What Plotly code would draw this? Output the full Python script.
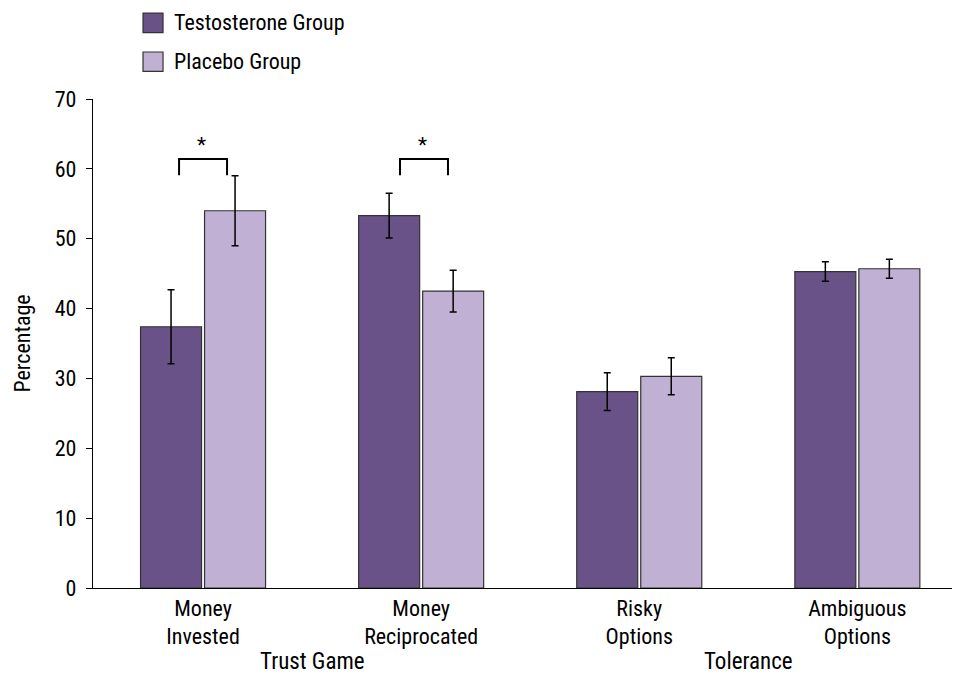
import plotly.graph_objects as go

categories = ["Money<br>Invested", "Money<br>Reciprocated", "Risky<br>Options", "Ambiguous<br>Options"]
groups = ["Trust Game", "Tolerance"]
series_names = ["Testosterone Group", "Placebo Group"]
testosterone = [37.4, 53.3, 28.1, 45.3]
testosterone_err = [5.3, 3.2, 2.7, 1.4]
placebo = [54.0, 42.5, 30.3, 45.7]
placebo_err = [5.0, 3.0, 2.65, 1.35]
y_ticks = [0, 10, 20, 30, 40, 50, 60, 70]

FONT = "Roboto Condensed, Liberation Sans Narrow, Arial Narrow, Liberation Sans, sans-serif"
DARK = "#685287"
LIGHT = "#C0B0D4"
EDGE = "#333333"

xpos = list(range(len(categories)))

fig = go.Figure()
for name, vals, errs, col in [(series_names[0], testosterone, testosterone_err, DARK),
                              (series_names[1], placebo, placebo_err, LIGHT)]:
    fig.add_trace(go.Bar(
        x=xpos, y=vals, name=name,
        marker=dict(color=col, line=dict(color=EDGE, width=1.2)),
        error_y=dict(type="data", array=errs, visible=True, color="black", thickness=1.5, width=3.5),
        showlegend=False,
    ))

# significance brackets
brackets = [(0, -0.11, 0.11), (1, -0.097, 0.123)]
for c, a, b in brackets:
    fig.add_shape(type="path",
                  path=f"M {c+a},59.1 L {c+a},61.4 L {c+b},61.4 L {c+b},59.1",
                  line=dict(color="black", width=2), xref="x", yref="y")
    fig.add_annotation(x=c + (a + b) / 2 - 0.005, y=63.4, text="*", showarrow=False,
                       font=dict(family=FONT, size=21, color="black"), xref="x", yref="y")

# group labels
for i, g in enumerate(groups):
    fig.add_annotation(x=2 * i + 0.5, y=-0.151, xref="x", yref="paper", text=g,
                       showarrow=False, yanchor="middle",
                       font=dict(family=FONT, size=23, color="black"))

# legend drawn manually
leg = [(series_names[0], DARK, 1.1757, 1.1357), (series_names[1], LIGHT, 1.0961, 1.0566)]
for name, col, y1, y0 in leg:
    fig.add_shape(type="rect", xref="paper", yref="paper",
                  x0=(143.3 - 93.3) / 858.7, x1=(163.3 - 93.3) / 858.7, y0=y0, y1=y1,
                  fillcolor=col, line=dict(color=EDGE, width=1.2))
    fig.add_annotation(x=(172 - 93.3) / 858.7, y=(y0 + y1) / 2, xref="paper", yref="paper",
                       text=name, showarrow=False, xanchor="left", yanchor="middle",
                       font=dict(family=FONT, size=22, color="black"))

fig.update_layout(
    width=954, height=682,
    margin=dict(l=93, r=2, t=99, b=94),
    plot_bgcolor="white", paper_bgcolor="white",
    barmode="group", bargap=0.413, bargroupgap=0.047,
    font=dict(family=FONT, size=22, color="black"),
    xaxis=dict(range=[-0.5046, 3.434], tickvals=xpos, ticktext=categories,
               showline=True, linecolor="black", linewidth=1.3, ticks="",
               showgrid=False, zeroline=False,
               tickfont=dict(family=FONT, size=22, color="black")),
    yaxis=dict(range=[0, 70], tickvals=y_ticks, ticklabelstandoff=5, showline=True, linecolor="black", linewidth=1.3,
               ticks="outside", ticklen=6, tickwidth=1.3, tickcolor="black",
               showgrid=False, zeroline=False,
               title=dict(text="Percentage", font=dict(family=FONT, size=22, color="black"), standoff=18),
               tickfont=dict(family=FONT, size=22, color="black")),
)

fig.write_html("out.html")
